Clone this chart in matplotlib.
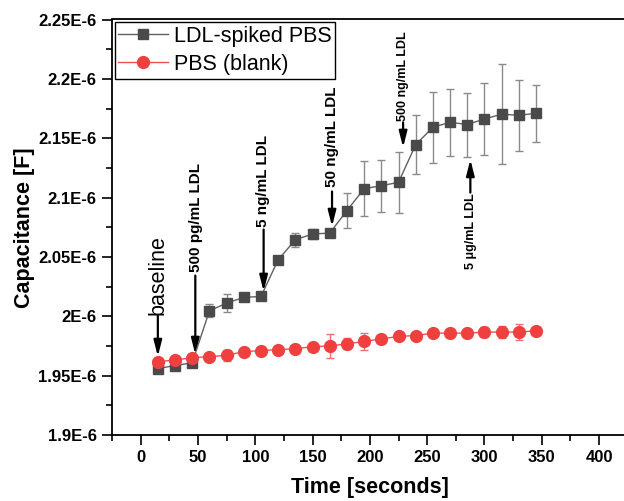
import numpy as np
import matplotlib
matplotlib.use("Agg")
import matplotlib.pyplot as plt
from matplotlib.ticker import MultipleLocator, FuncFormatter
from matplotlib.lines import Line2D

plt.rcParams['font.family'] = ['Liberation Sans', 'DejaVu Sans']

# ---- data (capacitance in units of 1E-6 F) ----
time_s = [15, 30, 45, 60, 75, 90, 105, 120, 135, 150, 165, 180,
          195, 210, 225, 240, 255, 270, 285, 300, 315, 330, 345]
ldl_cap = [1.956, 1.9585, 1.9608, 2.0046, 2.0111, 2.0159, 2.0167, 2.0476,
           2.0645, 2.0693, 2.0701, 2.089, 2.1075, 2.110, 2.1128, 2.1446,
           2.1592, 2.1634, 2.1615, 2.1662, 2.1702, 2.1693, 2.1710]
ldl_err = [0.001, 0.001, 0.001, 0.0056, 0.0073, 0.002, 0.002, 0.002,
           0.006, 0.0045, 0.002, 0.015, 0.023, 0.022, 0.026, 0.025,
           0.030, 0.028, 0.027, 0.030, 0.042, 0.030, 0.024]
pbs_cap = [1.9616, 1.9633, 1.965, 1.9661, 1.967, 1.9703, 1.971, 1.972,
           1.9726, 1.9745, 1.975, 1.9768, 1.9788, 1.981, 1.983, 1.9838,
           1.9858, 1.9858, 1.9858, 1.9867, 1.9867, 1.9867, 1.9878]
pbs_err = [0.002, 0.003, 0.002, 0.002, 0.005, 0.003, 0.002, 0.002,
           0.002, 0.003, 0.010, 0.0045, 0.0073, 0.003, 0.003, 0.002,
           0.002, 0.002, 0.002, 0.004, 0.005, 0.0066, 0.002]

series_labels = ["LDL-spiked PBS", "PBS (blank)"]
x_label = "Time [seconds]"
y_label = "Capacitance [F]"

fig = plt.figure(figsize=(6.24, 5.01), dpi=100)
W, H = 624, 501
ax = fig.add_axes([112 / W, (H - 435) / H, 532.9 / W, 415.5 / H])

scale = 1e-6
t = np.array(time_s)
blk_style = dict(color='#606060', lw=1.0, marker='s', ms=7.5, mfc='#4a4a4a', mec='#4a4a4a')
red_style = dict(color='#f05050', lw=1.0, marker='o', ms=8.5, mfc='#ef4040', mec='#ef4040')
ax.errorbar(t, np.array(ldl_cap) * scale, yerr=np.array(ldl_err) * scale,
            ecolor='#8a8a8a', elinewidth=1.0, capsize=3, capthick=1.0, zorder=3, **blk_style)
ax.errorbar(t, np.array(pbs_cap) * scale, yerr=np.array(pbs_err) * scale,
            ecolor='#f07070', elinewidth=1.0, capsize=3, capthick=1.0, zorder=4, **red_style)

ax.set_xlim(-25, 440)
ax.set_ylim(1.9e-6, 2.25e-6)
ax.xaxis.set_major_locator(MultipleLocator(50))
ax.xaxis.set_minor_locator(MultipleLocator(25))
ax.yaxis.set_major_locator(MultipleLocator(0.05e-6))
ax.yaxis.set_minor_locator(MultipleLocator(0.025e-6))
ax.xaxis.set_major_formatter(FuncFormatter(lambda v, p: f"{v:g}"))
ax.yaxis.set_major_formatter(FuncFormatter(lambda v, p: f"{round(v * 1e6, 3):g}E-6"))
ax.tick_params(which='major', direction='out', length=7, width=1.2, labelsize=12, pad=4)
ax.tick_params(which='minor', direction='out', length=4, width=1.2)
for lbl in ax.get_xticklabels() + ax.get_yticklabels():
    lbl.set_fontweight('bold')
for s in ax.spines.values():
    s.set_linewidth(1.3)
ax.spines['right'].set_visible(False)

ax.set_xlabel(x_label, fontsize=15.5, fontweight='bold', labelpad=8)
ax.xaxis.set_label_coords((141 + 200 * 1.146 - 112) / 532.9, -0.1)
ax.xaxis.label.set_va('top')
ax.set_ylabel(y_label, fontsize=15.5, fontweight='bold', labelpad=2.5)

handles = [Line2D([], [], **blk_style), Line2D([], [], **red_style)]
leg = ax.legend(handles, series_labels, loc='upper left', fontsize=15.5, frameon=True,
                fancybox=False, edgecolor='black', framealpha=1, handlelength=2.28,
                handletextpad=0.28, borderpad=0.18, borderaxespad=0.12,
                labelspacing=0.32, numpoints=1)
leg.get_frame().set_linewidth(1.0)

def arrow(x, y0, y1):
    ax.annotate('', xy=(x, y1 * scale), xytext=(x, y0 * scale),
                arrowprops=dict(arrowstyle='-|>,head_length=0.95,head_width=0.24',
                                color='black', lw=1.6, shrinkA=0, shrinkB=0,
                                mutation_scale=10))

ax.text(15, 2.0015 * scale, 'baseline', rotation=90, ha='center', va='bottom', fontsize=15.5)
arrow(15, 2.0006, 1.9661)
ax.text(48.5, 2.0377 * scale, '500 pg/mL LDL', rotation=90, ha='center', va='bottom',
        fontsize=11, fontweight='bold')
arrow(47.7, 2.0343, 1.9678)
ax.text(107, 2.0748 * scale, '5 ng/mL LDL', rotation=90, ha='center', va='bottom',
        fontsize=11, fontweight='bold')
arrow(107.3, 2.0731, 2.0209)
ax.text(166.8, 2.1093 * scale, '50 ng/mL LDL', rotation=90, ha='center', va='bottom',
        fontsize=11, fontweight='bold')
arrow(167, 2.1051, 2.0756)
ax.text(229, 2.1641 * scale, '500 ng/mL LDL', rotation=90, ha='center', va='bottom',
        fontsize=9, fontweight='bold')
arrow(229, 2.1632, 2.1422)
ax.text(288.5, 2.1034 * scale, '5 \u03bcg/mL LDL', rotation=90, ha='center', va='top',
        fontsize=9, fontweight='bold')
arrow(287.7, 2.1042, 2.1321)

fig.savefig('out.png', dpi=100)
